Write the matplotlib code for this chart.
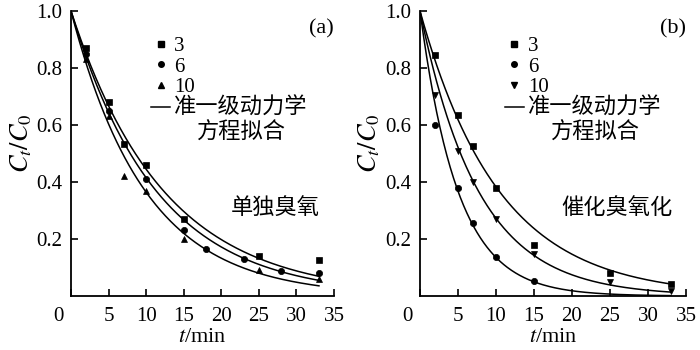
import numpy as np
import matplotlib
matplotlib.use("Agg")
import matplotlib.pyplot as plt
from matplotlib.lines import Line2D
from matplotlib.transforms import ScaledTranslation

plt.rcParams["font.family"] = ["Liberation Serif", "Noto Sans CJK SC"]
plt.rcParams["mathtext.fontset"] = "stix"

# ---- data: relative concentration C_t/C_0 versus time (min) ----
series_labels = ["3", "6", "10"]

# (a) ozonation alone
a_t3 = [2, 5, 7, 10, 15, 25, 33]
a_c3 = [0.87, 0.68, 0.535, 0.46, 0.27, 0.14, 0.125]
a_t6 = [2, 5, 10, 15, 18, 23, 28, 33]
a_c6 = [0.85, 0.65, 0.41, 0.23, 0.165, 0.13, 0.088, 0.08]
a_t10 = [2, 5, 7, 10, 15, 25, 33]
a_c10 = [0.83, 0.63, 0.42, 0.37, 0.20, 0.09, 0.06]
a_k = [0.081, 0.088, 0.101]          # pseudo-first-order rate constants, 1/min

# (b) catalytic ozonation
b_t3 = [2, 5, 7, 10, 15, 25, 33]
b_c3 = [0.846, 0.636, 0.525, 0.378, 0.18, 0.08, 0.042]
b_t6 = [2, 5, 7, 10, 15]
b_c6 = [0.60, 0.38, 0.255, 0.136, 0.052]
b_t10 = [2, 5, 7, 10, 15, 25, 33]
b_c10 = [0.706, 0.51, 0.40, 0.27, 0.147, 0.049, 0.017]
b_k = [0.096, 0.20, 0.13]

fit_t_end = 33
x_ticks = [0, 5, 10, 15, 20, 25, 30, 35]
y_ticks = [0.2, 0.4, 0.6, 0.8, 1.0]

fig = plt.figure(figsize=(7, 3.5), dpi=100)
ax_a = fig.add_axes([71 / 700, 54 / 350, 263 / 700, 285 / 350])
ax_b = fig.add_axes([420 / 700, 54 / 350, 266 / 700, 285 / 350])

TICK_FS = 15
LEG_FS = 15
CJK_FS = 16


def draw_panel(ax, tags, pts, ks, markers, panel_tag, note, leg_x, fit_note_x):
    tt = np.linspace(0, fit_t_end, 300)
    for k in ks:
        ax.plot(tt, np.exp(-k * tt), color="black", lw=1.1, zorder=2)
    for (t, c), m in zip(pts, markers):
        ax.plot(t, c, ls="none", marker=m, ms=4.5, color="black",
                markeredgewidth=0.5, zorder=3)

    ax.set_xlim(0, 35)
    ax.set_ylim(0, 1.0)
    ax.set_xticks(x_ticks)
    ax.set_yticks(y_ticks)
    ax.set_yticklabels([f"{v:.1f}" for v in y_ticks])
    for s in ("top", "right"):
        ax.spines[s].set_visible(False)
    for s in ("left", "bottom"):
        ax.spines[s].set_linewidth(1.3)
    ax.tick_params(direction="in", length=5, width=1.2, labelsize=TICK_FS, pad=6)
    ax.tick_params(axis="x", pad=8)
    # origin label sits just left of the corner
    lbl0 = ax.get_xticklabels()[0]
    lbl0.set_transform(lbl0.get_transform()
                       + ScaledTranslation(-0.13, 0, fig.dpi_scale_trans))

    ax.set_xlabel("$t$/min", fontsize=TICK_FS + 1)
    ax.xaxis.set_label_coords(0.5, -0.147)
    ax.xaxis.label.set_va("center")
    ax.set_ylabel("$C_t/C_0$", fontsize=TICK_FS + 4)
    ax.yaxis.set_label_coords(-0.19, 0.537)
    ax.yaxis.label.set_va("center")

    ax.text(1.0, 0.97, panel_tag, transform=ax.transAxes, ha="right",
            va="top", fontsize=TICK_FS + 1)
    ax.text(note[0], 0.31, note[1], transform=ax.transAxes, ha="center",
            va="center", fontsize=CJK_FS, family=["Noto Sans CJK SC"])

    handles = [Line2D([], [], ls="none", marker=m, ms=4, color="black")
               for m in markers]
    handles.append(Line2D([], [], color="black", lw=1.1))
    leg = ax.legend(handles, tags + ["准一级动力学"], loc="upper left",
                    bbox_to_anchor=(leg_x, 0.91), frameon=False,
                    fontsize=LEG_FS, handlelength=0.9, handletextpad=0.2,
                    labelspacing=0.04, borderpad=0.0, borderaxespad=0.0)
    leg.get_texts()[-1].set_fontsize(CJK_FS)
    ax.text(fit_note_x, 0.576, "方程拟合", transform=ax.transAxes,
            ha="center", va="center", fontsize=CJK_FS,
            family=["Noto Sans CJK SC"])


draw_panel(ax_a, series_labels,
           [(a_t3, a_c3), (a_t6, a_c6), (a_t10, a_c10)], a_k,
           ["s", "o", "^"], "(a)", (0.776, "单独臭氧"), 0.305, 0.65)
draw_panel(ax_b, series_labels,
           [(b_t3, b_c3), (b_t6, b_c6), (b_t10, b_c10)], b_k,
           ["s", "o", "v"], "(b)", (0.74, "催化臭氧化"), 0.32, 0.66)

fig.savefig("out.png", dpi=100)
